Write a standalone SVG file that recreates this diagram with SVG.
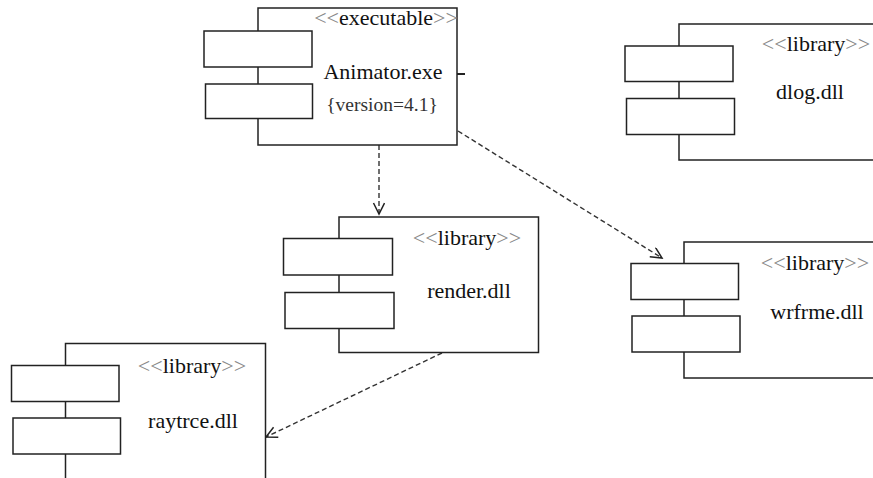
<svg xmlns="http://www.w3.org/2000/svg" width="873" height="478" viewBox="0 0 873 478">
<style>
.box{fill:#fff;stroke:#222;stroke-width:1.5}
.port{fill:#fff;stroke:#222;stroke-width:1.5}
.t{font-family:'Liberation Serif','Times New Roman',serif;font-size:22px;fill:#111;text-anchor:middle}
.g{fill:#888}
.v{font-size:19.5px;fill:#333}
.dep{fill:none;stroke:#333;stroke-width:1.4;stroke-dasharray:5 3}
</style>
<defs>
<marker id="open" markerUnits="userSpaceOnUse" markerWidth="14" markerHeight="14" refX="12" refY="6" orient="auto">
<path d="M1,0.5 L12,6 L1,11.5" fill="none" stroke="#222" stroke-width="1.5"/>
</marker>
</defs>
<rect width="873" height="478" fill="#fff"/>
<g id="connectors">
<path class="dep" d="M379,145 L379,214" marker-end="url(#open)"/>
<path class="dep" d="M458,131 L662,258" marker-end="url(#open)"/>
<path class="dep" d="M442,353 L266,437" marker-end="url(#open)"/>
</g>
<g id="animator">
<rect class="box" x="258" y="8" width="199" height="137"/>
<line x1="457" y1="74" x2="465" y2="74" stroke="#222" stroke-width="2"/>
<rect class="port" x="204" y="31" width="108" height="36"/>
<rect class="port" x="205.5" y="84" width="107" height="34.5"/>
<text class="t" x="386" y="25"><tspan class="g">&lt;&lt;</tspan>executable<tspan class="g">&gt;&gt;</tspan></text>
<text class="t" x="383" y="79">Animator.exe</text>
<text class="t v" x="382" y="111">{version=4.1}</text>
</g>
<g id="dlog">
<rect class="box" x="679" y="24" width="210" height="136"/>
<rect class="port" x="625" y="46" width="108" height="35.5"/>
<rect class="port" x="626.5" y="98.5" width="108" height="36"/>
<text class="t" x="816" y="51"><tspan class="g">&lt;&lt;</tspan>library<tspan class="g">&gt;&gt;</tspan></text>
<text class="t" x="810" y="99">dlog.dll</text>
</g>
<g id="render">
<rect class="box" x="339" y="217" width="199.5" height="135.5"/>
<rect class="port" x="283.5" y="238.5" width="109" height="36.5"/>
<rect class="port" x="285" y="292.5" width="109" height="36"/>
<text class="t" x="467" y="245"><tspan class="g">&lt;&lt;</tspan>library<tspan class="g">&gt;&gt;</tspan></text>
<text class="t" x="469" y="298">render.dll</text>
</g>
<g id="wrfrme">
<rect class="box" x="684" y="242" width="210" height="136"/>
<rect class="port" x="631" y="263.5" width="107.5" height="36"/>
<rect class="port" x="632" y="316" width="108" height="36"/>
<text class="t" x="815" y="270"><tspan class="g">&lt;&lt;</tspan>library<tspan class="g">&gt;&gt;</tspan></text>
<text class="t" x="817" y="319">wrfrme.dll</text>
</g>
<g id="raytrce">
<rect class="box" x="65.5" y="343.5" width="200" height="150"/>
<rect class="port" x="11.5" y="365.5" width="107.5" height="36"/>
<rect class="port" x="13" y="418" width="107.5" height="36"/>
<text class="t" x="192" y="373"><tspan class="g">&lt;&lt;</tspan>library<tspan class="g">&gt;&gt;</tspan></text>
<text class="t" x="193" y="428">raytrce.dll</text>
</g>
</svg>
